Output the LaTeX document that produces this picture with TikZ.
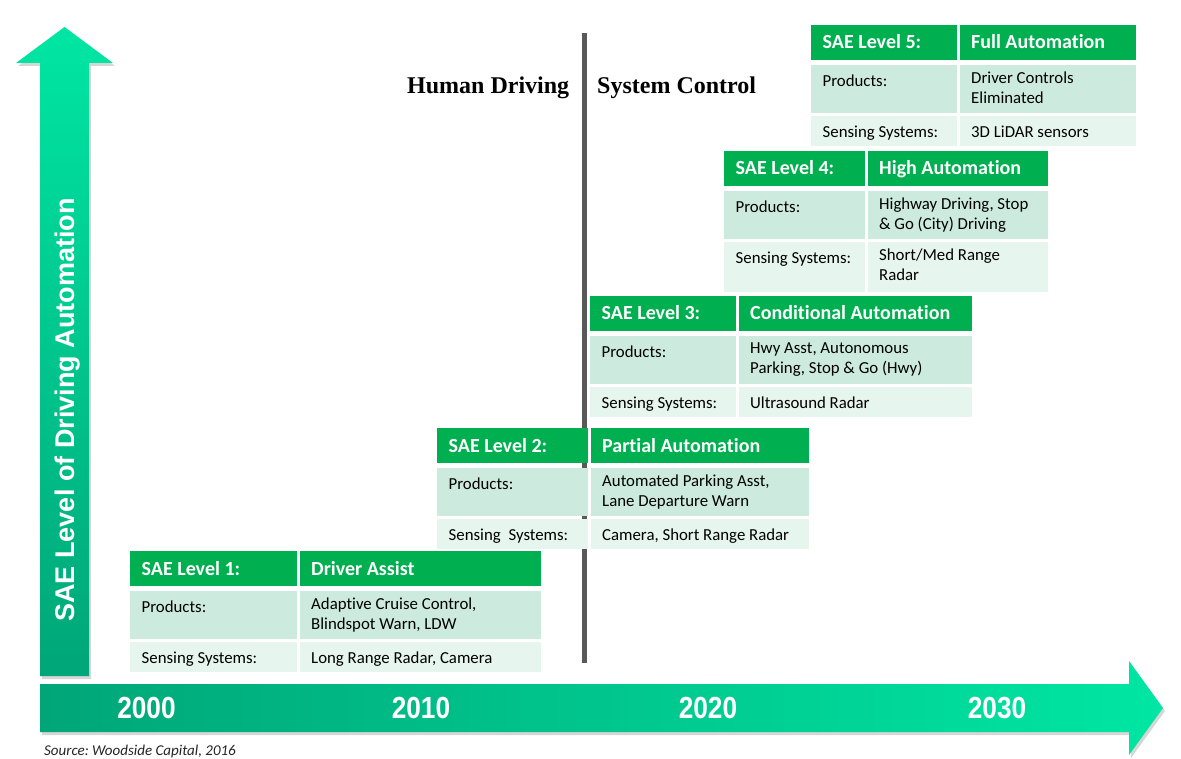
\documentclass[tikz,border=0pt]{standalone}
\usepackage{fontspec}
\setmainfont[Ligatures=NoCommon]{Carlito}
\newfontfamily\arialfont{Liberation Sans}
\newfontfamily\narrowfont[FakeStretch=0.86]{Liberation Sans}
\newfontfamily\timesfont{Liberation Serif}
\frenchspacing

\definecolor{hdrgreen}{RGB}{0,176,80}
\definecolor{prodfill}{RGB}{204,235,222}
\definecolor{sensefill}{RGB}{230,245,238}
\definecolor{arrowdark}{RGB}{0,166,120}
\definecolor{arrowlight}{RGB}{0,230,163}
\definecolor{divgray}{RGB}{89,89,89}
\definecolor{srcgray}{RGB}{38,38,38}

\tikzset{
  cellbox/.style={anchor=north west, inner sep=0pt, outer sep=0pt, draw=none},
  hdrcell/.style={cellbox, fill=hdrgreen},
  prodcell/.style={cellbox, fill=prodfill},
  sensecell/.style={cellbox, fill=sensefill},
  hdrtxt/.style={anchor=base west, inner sep=0pt, text=white,
    font=\bfseries\fontsize{20}{22}\selectfont},
  % body text hangs from a 14pt strut, so the first baseline sits 14pt below the node top
  bodytxt/.style={anchor=north west, inner sep=0pt, text=black, align=left,
    font=\fontsize{16.8}{19.5}\selectfont,
    execute at begin node={\rule{0pt}{14pt}}},
  yearlbl/.style={anchor=base, inner sep=0pt, text=white,
    font=\narrowfont\bfseries\fontsize{30.5}{32}\selectfont},
  sidetitle/.style={anchor=base west, inner sep=0pt, text=black,
    font=\timesfont\bfseries\fontsize{24}{26}\selectfont},
  divider/.style={line width=5pt, draw=divgray},
  shadowfill/.style={fill=black, opacity=0.16},
}

% sensing row height and label, changeable per level
\def\senseh{30}
\def\senselabel{Sensing Systems:}

% #1 id, #2 left x, #3 column split x, #4 right x, #5 top y,
% #6 level, #7 title, #8 products, #9 sensing systems
\newcommand\saelevel[9]{%
  \pgfmathsetmacro\lw{#3-#2}%
  \pgfmathsetmacro\xr{#3+2.5}%
  \pgfmathsetmacro\rw{#4-#3-2.5}%
  \node[hdrcell, minimum width=\lw, minimum height=35] (#1hl) at (#2,#5) {};
  \node[hdrcell, minimum width=\rw, minimum height=35] (#1hr) at (\xr,#5) {};
  \node[prodcell, minimum width=\lw, minimum height=48] (#1pl) at (#2,#5+40) {};
  \node[prodcell, minimum width=\rw, minimum height=48] (#1pr) at (\xr,#5+40) {};
  \node[sensecell, minimum width=\lw, minimum height=\senseh] (#1sl) at (#2,#5+91) {};
  \node[sensecell, minimum width=\rw, minimum height=\senseh] (#1sr) at (\xr,#5+91) {};
  \node[hdrtxt] (#1hlt) at (#2+11.5,#5+24) {#6};
  \node[hdrtxt] (#1hrt) at (\xr+11.5,#5+24) {#7};
  \node[bodytxt] (#1plt) at (#2+11.5,#5+47) {Products:};
  \node[bodytxt] (#1prt) at (\xr+11.5,#5+47) {#8};
  \node[bodytxt] (#1slt) at (#2+11.5,#5+98) {\senselabel};
  \node[bodytxt] (#1srt) at (\xr+11.5,#5+98) {#9};
}

\begin{document}
\begin{tikzpicture}[x=1pt,y=-1pt]
\useasboundingbox (0,0) rectangle (1181,759);
\fill[white] (0,0) rectangle (1181,759);

% vertical axis arrow
\fill[shadowfill, xshift=2pt, yshift=-3pt]
  (40,676) -- (40,63) -- (16,63) -- (64.5,27) -- (113,63) -- (89,63) -- (89,676) -- cycle;
\shade[top color=arrowlight, bottom color=arrowdark]
  (40,676) -- (40,63) -- (16,63) -- (64.5,27) -- (113,63) -- (89,63) -- (89,676) -- cycle;
\node[rotate=90, anchor=base, inner sep=0pt, text=white,
  font=\arialfont\bfseries\fontsize{27}{30}\selectfont] (axistitle) at (74,410)
  {SAE Level of Driving Automation};

% time axis arrow
\fill[shadowfill, xshift=2pt, yshift=-3pt]
  (40,684) -- (1129,684) -- (1129,661) -- (1163,708) -- (1129,755) -- (1129,732) -- (40,732) -- cycle;
\shade[left color=arrowdark, right color=arrowlight]
  (40,684) -- (1129,684) -- (1129,661) -- (1163,708) -- (1129,755) -- (1129,732) -- (40,732) -- cycle;
\node[yearlbl] (y2000) at (146.5,718) {2000};
\node[yearlbl] (y2010) at (421,718) {2010};
\node[yearlbl] (y2020) at (708,718) {2020};
\node[yearlbl] (y2030) at (997,718) {2030};

% human / system divider
\coordinate (dtop) at (584.5,33);
\coordinate (dbot) at (584.5,663);
\draw[divider, draw=black, opacity=0.15, xshift=1.5pt, yshift=-2pt] (dtop) -- (dbot);
\draw[divider] (dtop) -- (dbot);
\node[sidetitle] (human) at (407,94) {Human Driving};
\node[sidetitle] (system) at (597,94) {System Control};

% automation levels
\saelevel{a}{130}{297}{541}{551}{SAE Level 1:}{Driver Assist}
  {Adaptive Cruise Control,\\Blindspot Warn, LDW}{Long Range Radar, Camera}
{\def\senselabel{Sensing\hspace{4pt} Systems:}%
\saelevel{b}{437}{588}{809}{428}{SAE Level 2:}{Partial Automation}
  {Automated Parking Asst,\\Lane Departure Warn}{Camera, Short Range Radar}}
\saelevel{c}{590}{736}{972}{296}{SAE Level 3:}{Conditional Automation}
  {Hwy Asst, Autonomous\\Parking, Stop \& Go (Hwy)}{Ultrasound Radar}
{\def\senseh{50}%
\saelevel{d}{724}{865}{1048}{151}{SAE Level 4:}{High Automation}
  {Highway Driving, Stop\\\& Go (City) Driving}{Short/Med Range\\Radar}}
\saelevel{e}{811}{957}{1136}{25}{SAE Level 5:}{Full Automation}
  {Driver Controls\\Eliminated}{3D LiDAR sensors}

% source note
\node[anchor=base west, inner sep=0pt, text=srcgray,
  font=\itshape\fontsize{15}{17}\selectfont] (source) at (44,755)
  {Source: Woodside Capital, 2016};
\end{tikzpicture}
\end{document}
